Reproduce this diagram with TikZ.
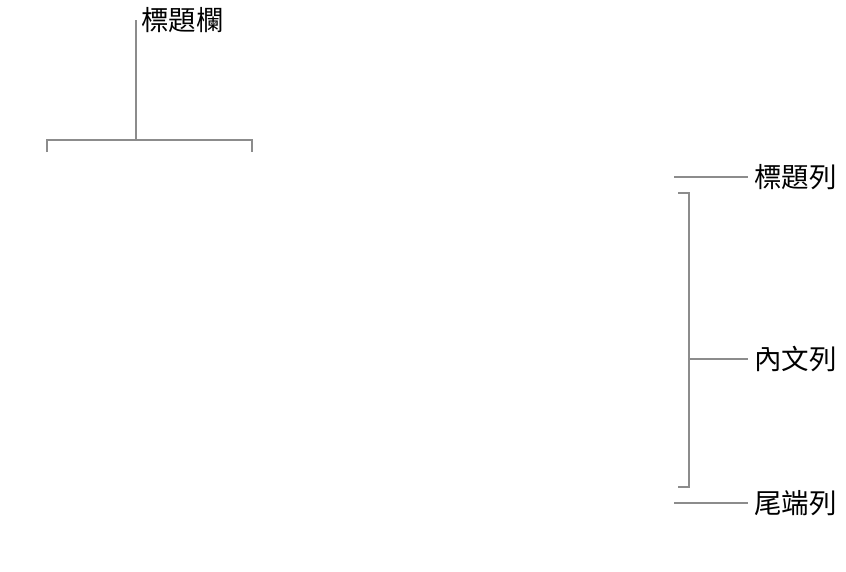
\documentclass[tikz,border=0pt]{standalone}
\usepackage{fontspec}
\newfontfamily\cjk{Noto Sans CJK TC}
\begin{document}
\begin{tikzpicture}[x=1pt, y=-1pt]
			\tikzset{etiquette/.style={anchor=west, inner sep=0pt, font=\cjk\fontsize{27.5}{32}\selectfont}, trait/.style={draw=black!45, line width=2.8pt}};

			\useasboundingbox (0,0) rectangle (846,571);

			\node[etiquette] (tcol) at ( 141,   20) {標題欄};
			\node[etiquette] (trow) at ( 754,  177) {標題列};
			\node[etiquette] (body) at ( 754,  359) {內文列};
			\node[etiquette] (foot) at ( 754,  503) {尾端列};

			\coordinate (c0) at ( 136,   20);
			\coordinate (c1) at ( 136,  140);
			\coordinate (cg) at (  47,  152);
			\coordinate (cd) at ( 252,  152);
			\coordinate (r1) at ( 674,  177);
			\coordinate (r3) at ( 674,  503);
			\coordinate (bh) at ( 678,  193);
			\coordinate (bb) at ( 678,  487);
			\coordinate (bm) at ( 689,  359);

			\draw[trait] (c0) -- (c1);
			\draw[trait] (cg) |- (c1) -| (cd);
			\draw[trait] (r1) -- ([xshift=-6pt]trow.west);
			\draw[trait] (r3) -- ([xshift=-6pt]foot.west);
			\draw[trait] (bh) -| (bm) |- (bb);
			\draw[trait] (bm) -- ([xshift=-6pt]body.west);

		\end{tikzpicture}
\end{document}
